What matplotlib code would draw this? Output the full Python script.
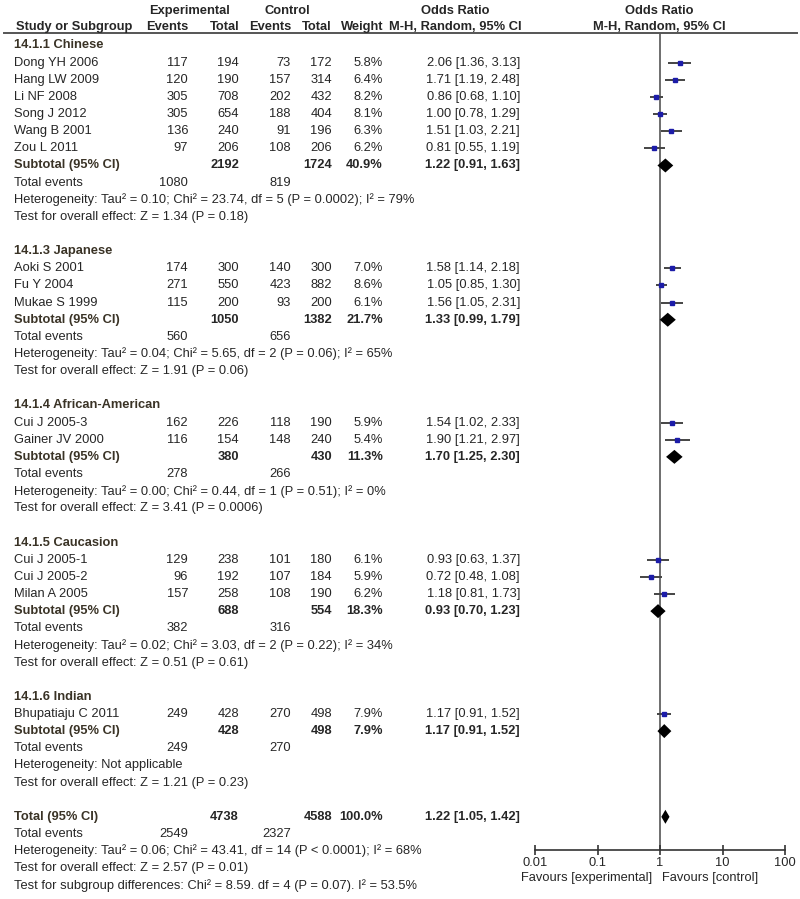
import numpy as np
import matplotlib.pyplot as plt
from matplotlib.ticker import NullLocator

plt.rcParams['font.family'] = ['Liberation Sans', 'DejaVu Sans']

# ── Data ─────────────────────────────────────────────────────────────────────
group_names = ['14.1.1 Chinese', '14.1.3 Japanese', '14.1.4 African-American',
               '14.1.5 Caucasion', '14.1.6 Indian']
group_size = [6, 3, 2, 3, 1]

study = ['Dong YH 2006', 'Hang LW 2009', 'Li NF 2008', 'Song J 2012', 'Wang B 2001', 'Zou L 2011',
         'Aoki S 2001', 'Fu Y 2004', 'Mukae S 1999',
         'Cui J 2005-3', 'Gainer JV 2000',
         'Cui J 2005-1', 'Cui J 2005-2', 'Milan A 2005',
         'Bhupatiaju C 2011']
exp_ev  = [117, 120, 305, 305, 136, 97, 174, 271, 115, 162, 116, 129, 96, 157, 249]
exp_tot = [194, 190, 708, 654, 240, 206, 300, 550, 200, 226, 154, 238, 192, 258, 428]
ctl_ev  = [73, 157, 202, 188, 91, 108, 140, 423, 93, 118, 148, 101, 107, 108, 270]
ctl_tot = [172, 314, 432, 404, 196, 206, 300, 882, 200, 190, 240, 180, 184, 190, 498]
weight  = [5.8, 6.4, 8.2, 8.1, 6.3, 6.2, 7.0, 8.6, 6.1, 5.9, 5.4, 6.1, 5.9, 6.2, 7.9]
or_est  = [2.06, 1.71, 0.86, 1.00, 1.51, 0.81, 1.58, 1.05, 1.56, 1.54, 1.90, 0.93, 0.72, 1.18, 1.17]
or_lo   = [1.36, 1.19, 0.68, 0.78, 1.03, 0.55, 1.14, 0.85, 1.05, 1.02, 1.21, 0.63, 0.48, 0.81, 0.91]
or_hi   = [3.13, 2.48, 1.10, 1.29, 2.21, 1.19, 2.18, 1.30, 2.31, 2.33, 2.97, 1.37, 1.08, 1.73, 1.52]

sub_exp_tot = [2192, 1050, 380, 688, 428]
sub_ctl_tot = [1724, 1382, 430, 554, 498]
sub_weight  = [40.9, 21.7, 11.3, 18.3, 7.9]
sub_or      = [1.22, 1.33, 1.70, 0.93, 1.17]
sub_lo      = [0.91, 0.99, 1.25, 0.70, 0.91]
sub_hi      = [1.63, 1.79, 2.30, 1.23, 1.52]
sub_exp_ev  = [1080, 560, 278, 382, 249]
sub_ctl_ev  = [819, 656, 266, 316, 270]
sub_het = ['Heterogeneity: Tau² = 0.10; Chi² = 23.74, df = 5 (P = 0.0002); I² = 79%',
           'Heterogeneity: Tau² = 0.04; Chi² = 5.65, df = 2 (P = 0.06); I² = 65%',
           'Heterogeneity: Tau² = 0.00; Chi² = 0.44, df = 1 (P = 0.51); I² = 0%',
           'Heterogeneity: Tau² = 0.02; Chi² = 3.03, df = 2 (P = 0.22); I² = 34%',
           'Heterogeneity: Not applicable']
sub_z = ['Test for overall effect: Z = 1.34 (P = 0.18)',
         'Test for overall effect: Z = 1.91 (P = 0.06)',
         'Test for overall effect: Z = 3.41 (P = 0.0006)',
         'Test for overall effect: Z = 0.51 (P = 0.61)',
         'Test for overall effect: Z = 1.21 (P = 0.23)']

tot_exp_tot, tot_ctl_tot, tot_weight = 4738, 4588, 100.0
tot_or, tot_lo, tot_hi = 1.22, 1.05, 1.42
tot_exp_ev, tot_ctl_ev = 2549, 2327
tot_lines = ['Heterogeneity: Tau² = 0.06; Chi² = 43.41, df = 14 (P < 0.0001); I² = 68%',
             'Test for overall effect: Z = 2.57 (P = 0.01)',
             'Test for subgroup differences: Chi² = 8.59. df = 4 (P = 0.07). I² = 53.5%']

ticks = [0.01, 0.1, 1, 10, 100]
tick_labels = ['0.01', '0.1', '1', '10', '100']

# ── Layout (pixels) ──────────────────────────────────────────────────────────
Y0, DY = 45.5, 17.14
X_LBL, X_EE, X_ET, X_CE, X_CT, X_W, X_OR = 14, 188, 239, 291, 332, 383, 520
FS = 9.3
TXT = '#262626'
BOLD_LBL = '#3a3326'

def rowy(r):
    return Y0 + DY * r

fig = plt.figure(figsize=(8, 8.99), dpi=100)
fig.patch.set_facecolor('white')
tx = fig.add_axes([0, 0, 1, 1])
tx.set_xlim(0, 800); tx.set_ylim(899, 0); tx.axis('off')

# forest axes: 0.01..100 over x 535..785, y in the same pixel units
fa = fig.add_axes([535/800, 1 - 850/899, 250/800, (850 - 33)/899])
fa.set_xscale('log'); fa.set_xlim(0.01, 100); fa.set_ylim(850, 33)
fa.patch.set_alpha(0)
for s in ['top', 'left', 'right']:
    fa.spines[s].set_visible(False)
fa.spines['bottom'].set_color('#333333'); fa.spines['bottom'].set_linewidth(1.2)
fa.set_xticks(ticks); fa.set_xticklabels(tick_labels)
fa.xaxis.set_minor_locator(NullLocator())
fa.tick_params(axis='x', direction='inout', length=7, width=1.2, pad=1.5,
               labelsize=FS, colors='#333333', labelcolor=TXT)
fa.set_yticks([])
fa.axvline(1, color='#555555', lw=1.2, zorder=1)

def t(x, y, s, ha='left', bold=False, color=TXT):
    tx.text(x, y, s, ha=ha, va='center', fontsize=FS,
            fontweight='bold' if bold else 'normal', color=color)

# ── Header ───────────────────────────────────────────────────────────────────
t(189, 11, 'Experimental', ha='center', bold=True)
t(287, 11, 'Control', ha='center', bold=True)
t(455, 11, 'Odds Ratio', ha='center', bold=True)
t(659, 11, 'Odds Ratio', ha='center', bold=True)
t(16, 27, 'Study or Subgroup', bold=True)
t(X_EE, 27, 'Events', ha='right', bold=True)
t(X_ET, 27, 'Total', ha='right', bold=True)
t(X_CE, 27, 'Events', ha='right', bold=True)
t(X_CT, 27, 'Total', ha='right', bold=True)
t(X_W, 27, 'Weight', ha='right', bold=True)
t(455, 27, 'M-H, Random, 95% CI', ha='center', bold=True)
t(659, 27, 'M-H, Random, 95% CI', ha='center', bold=True)
tx.plot([4, 797], [33, 33], color='#555555', lw=1.4)

def diamond(est, lo, hi, y, h=7):
    fa.fill([lo, est, hi, est], [y, y - h, y, y + h], color='black', zorder=3, lw=0)

# ── Body ─────────────────────────────────────────────────────────────────────
r = 0
i = 0
for g, name in enumerate(group_names):
    t(X_LBL, rowy(r), name, bold=True, color=BOLD_LBL)
    r += 1
    for _ in range(group_size[g]):
        y = rowy(r)
        t(X_LBL, y, study[i])
        t(X_EE, y, str(exp_ev[i]), ha='right')
        t(X_ET, y, str(exp_tot[i]), ha='right')
        t(X_CE, y, str(ctl_ev[i]), ha='right')
        t(X_CT, y, str(ctl_tot[i]), ha='right')
        t(X_W, y, f'{weight[i]:.1f}%', ha='right')
        t(X_OR, y, f'{or_est[i]:.2f} [{or_lo[i]:.2f}, {or_hi[i]:.2f}]', ha='right')
        fa.plot([or_lo[i], or_hi[i]], [y, y], color='#444444', lw=1.4, zorder=2,
                solid_capstyle='butt')
        fa.plot(or_est[i], y, marker='s', ms=2.3 + 0.08 * weight[i],
                color='#1c1ca8', mec='#1c1ca8', zorder=3)
        r += 1
        i += 1
    y = rowy(r)
    t(X_LBL, y, 'Subtotal (95% CI)', bold=True, color=BOLD_LBL)
    t(X_ET, y, str(sub_exp_tot[g]), ha='right', bold=True)
    t(X_CT, y, str(sub_ctl_tot[g]), ha='right', bold=True)
    t(X_W, y, f'{sub_weight[g]:.1f}%', ha='right', bold=True)
    t(X_OR, y, f'{sub_or[g]:.2f} [{sub_lo[g]:.2f}, {sub_hi[g]:.2f}]', ha='right', bold=True)
    diamond(sub_or[g], sub_lo[g], sub_hi[g], y)
    r += 1
    y = rowy(r)
    t(X_LBL, y, 'Total events')
    t(X_EE, y, str(sub_exp_ev[g]), ha='right')
    t(X_CE, y, str(sub_ctl_ev[g]), ha='right')
    r += 1
    t(X_LBL, rowy(r), sub_het[g]); r += 1
    t(X_LBL, rowy(r), sub_z[g]); r += 1
    r += 1  # blank line

# ── Overall ──────────────────────────────────────────────────────────────────
y = rowy(r)
t(X_LBL, y, 'Total (95% CI)', bold=True, color=BOLD_LBL)
t(X_ET, y, str(tot_exp_tot), ha='right', bold=True)
t(X_CT, y, str(tot_ctl_tot), ha='right', bold=True)
t(X_W, y, f'{tot_weight:.1f}%', ha='right', bold=True)
t(X_OR, y, f'{tot_or:.2f} [{tot_lo:.2f}, {tot_hi:.2f}]', ha='right', bold=True)
diamond(tot_or, tot_lo, tot_hi, y)
r += 1
y = rowy(r)
t(X_LBL, y, 'Total events')
t(X_EE, y, str(tot_exp_ev), ha='right')
t(X_CE, y, str(tot_ctl_ev), ha='right')
r += 1
for line in tot_lines:
    t(X_LBL, rowy(r), line)
    r += 1

t(652, 878, 'Favours [experimental]', ha='right')
t(662, 878, 'Favours [control]')

fig.savefig('out.png', dpi=100)
